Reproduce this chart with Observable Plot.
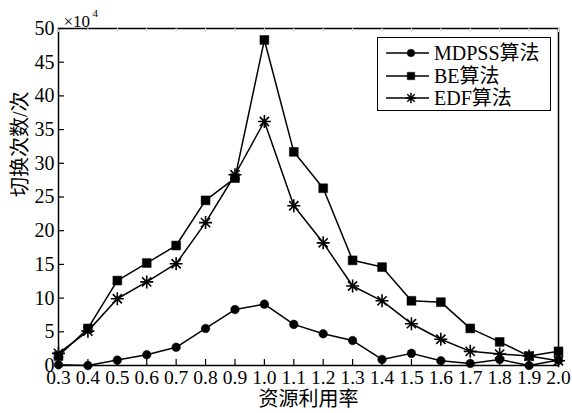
<!DOCTYPE html>
<html>
<head>
<meta charset="utf-8">
<script src="https://cdn.jsdelivr.net/npm/d3@7"></script>
<script src="https://cdn.jsdelivr.net/npm/@observablehq/plot@0.6"></script>
<style>
  body { margin: 0; background: #fff; }
  #wrap { position: relative; width: 572px; height: 413px; }
  svg text { font-family: "Liberation Serif", "Times New Roman", "DejaVu Serif", "Noto Sans CJK SC", serif; }
  .legend { position: absolute; left: 377px; top: 37px; width: 174px; height: 74px;
    border: 1.5px solid #000; box-sizing: border-box; background: #fff;
    font-family: "Liberation Serif", "Times New Roman", "DejaVu Serif", "Noto Sans CJK SC", serif; font-size: 20px; color: #000; }
  .row { position: absolute; left: 0; height: 22px; display: flex; align-items: center; }
  .row svg { display: block; }
  .row span { margin-left: 3px; line-height: 22px; white-space: nowrap; }
</style>
</head>
<body>
<div id="wrap"></div>
<script>
// ---- data ----
const utilization = [0.3, 0.4, 0.5, 0.6, 0.7, 0.8, 0.9, 1.0, 1.1, 1.2, 1.3, 1.4, 1.5, 1.6, 1.7, 1.8, 1.9, 2.0];
const mdpss = [0.1, 0.0, 0.8, 1.6, 2.7, 5.5, 8.3, 9.1, 6.1, 4.7, 3.7, 0.9, 1.8, 0.7, 0.3, 0.9, 0.0, 0.8];
const be    = [1.4, 5.5, 12.6, 15.2, 17.8, 24.5, 27.8, 48.3, 31.7, 26.3, 15.6, 14.6, 9.6, 9.4, 5.5, 3.5, 1.4, 2.1];
const edf   = [1.8, 5.1, 9.9, 12.4, 15.1, 21.2, 28.3, 36.2, 23.7, 18.2, 11.8, 9.6, 6.2, 3.9, 2.1, 1.7, 1.4, 0.7];
const seriesNames = ["MDPSS算法", "BE算法", "EDF算法"];
const xTicks = [0.3, 0.4, 0.5, 0.6, 0.7, 0.8, 0.9, 1.0, 1.1, 1.2, 1.3, 1.4, 1.5, 1.6, 1.7, 1.8, 1.9, 2.0];
const yTicks = [0, 5, 10, 15, 20, 25, 30, 35, 40, 45, 50];
const xLabel = "资源利用率";
const yLabel = "切换次数/次";
const yScaleLabel = "×10";
const yScaleExp = "4";

// 8-spoke asterisk symbol (MATLAB-style '*')
const asterisk8 = {
  draw(ctx, size) {
    const r = Math.sqrt(size / Math.PI);
    const d = r * Math.SQRT1_2;
    ctx.moveTo(-r, 0); ctx.lineTo(r, 0);
    ctx.moveTo(0, -r); ctx.lineTo(0, r);
    ctx.moveTo(-d, -d); ctx.lineTo(d, d);
    ctx.moveTo(-d, d); ctx.lineTo(d, -d);
  }
};

const seriesValues = [mdpss, be, edf];
const symbols = ["circle", "square", asterisk8];
const radii = [4.3, 5, 6.5];
const data = seriesValues.flatMap((vals, s) => utilization.map((u, i) => ({x: u, y: vals[i], s: seriesNames[s]})));

const W = 572, H = 413, mL = 58, mR = 14, mT = 28, mB = 48;
const plotW = W - mL - mR, plotH = H - mT - mB;
const font = '"Liberation Serif", "Times New Roman", "DejaVu Serif", "Noto Sans CJK SC", serif';

const marks = [
  Plot.frame({stroke: "#000", strokeWidth: 1.5}),
  Plot.ruleX(xTicks, {insetTop: plotH - 6, stroke: "#000", strokeWidth: 1.2}),
  Plot.ruleX(xTicks, {insetBottom: plotH - 4, stroke: "#ddd", strokeWidth: 1}),
  Plot.ruleY(yTicks, {insetRight: plotW - 6, stroke: "#000", strokeWidth: 1.2}),
  Plot.axisX({ticks: xTicks, tickSize: 0, tickPadding: 5, tickFormat: d => d.toFixed(1), fontSize: 19.5, label: null}),
  Plot.axisY({ticks: yTicks, tickSize: 0, tickPadding: 4, tickFormat: d => String(d), fontSize: 20, label: null}),
  Plot.text([xLabel], {frameAnchor: "bottom", dy: 26, lineAnchor: "top", fontSize: 20, fill: "#000"}),
  Plot.text([yLabel], {frameAnchor: "left", dx: -38, rotate: -90, fontSize: 20, fill: "#000"}),
  Plot.text([yScaleLabel], {frameAnchor: "top-left", dx: 5, dy: -2, lineAnchor: "bottom", textAnchor: "start", fontSize: 17, fill: "#000"}),
  Plot.text([yScaleExp], {frameAnchor: "top-left", dx: 34, dy: -12, lineAnchor: "bottom", textAnchor: "start", fontSize: 11, fill: "#000"})
];
seriesNames.forEach((name, s) => {
  const sub = data.filter(d => d.s === name);
  marks.push(Plot.line(sub, {x: "x", y: "y", stroke: "#000", strokeWidth: 1.5}));
  const isAst = s === 2;
  marks.push(Plot.dot(sub, {x: "x", y: "y", symbol: () => symbols[s], r: radii[s],
    fill: isAst ? "none" : "#000", stroke: "#000", strokeWidth: isAst ? 1.6 : 0.5}));
});

const chart = Plot.plot({
  width: W, height: H,
  marginLeft: mL, marginRight: mR, marginTop: mT, marginBottom: mB,
  x: {domain: [0.3, 2.0]},
  y: {domain: [0, 50]},
  symbol: {type: "identity"},
  style: {fontFamily: font, background: "#fff", color: "#000", overflow: "visible"},
  marks
});
const wrap = document.getElementById("wrap");
wrap.appendChild(chart);

// legend (inside plot, top-right)
const legend = document.createElement("div");
legend.className = "legend";
wrap.appendChild(legend);
seriesNames.forEach((name, s) => {
  const row = document.createElement("div");
  row.className = "row";
  row.style.top = (4 + s * 22.5) + "px";
  const svg = d3.create("svg").attr("width", 53).attr("height", 22);
  svg.append("line").attr("x1", 8).attr("x2", 51).attr("y1", 11).attr("y2", 11).attr("stroke", "#000").attr("stroke-width", 1.5);
  const sym = s === 2 ? asterisk8 : (s === 0 ? d3.symbolCircle : d3.symbolSquare);
  const r = [3.8, 4.2, 5.2][s];
  svg.append("path").attr("transform", "translate(33,11)")
    .attr("d", d3.symbol(sym, r * r * Math.PI)())
    .attr("fill", s === 2 ? "none" : "#000").attr("stroke", "#000").attr("stroke-width", s === 2 ? 1.5 : 0.5);
  row.appendChild(svg.node());
  const span = document.createElement("span");
  span.textContent = name;
  row.appendChild(span);
  legend.appendChild(row);
});
</script>
</body>
</html>
